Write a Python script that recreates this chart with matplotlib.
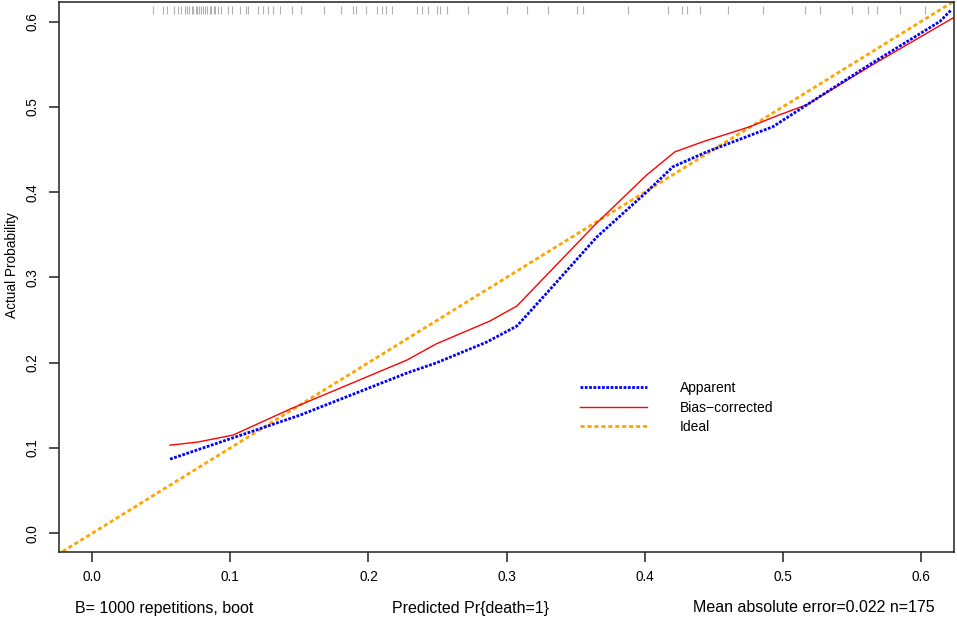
import numpy as np
import matplotlib
matplotlib.use("Agg")
import matplotlib.pyplot as plt
import matplotlib.transforms as mtransforms

plt.rcParams['font.family'] = ['Liberation Sans', 'DejaVu Sans']

# values
apparent_x = [0.0564, 0.1505, 0.2279, 0.2489, 0.2858, 0.3075, 0.3292, 0.3654,
              0.4016, 0.4204, 0.4450, 0.4928, 0.5289, 0.5651, 0.6136, 0.6223]
apparent_y = [0.0869, 0.1385, 0.1879, 0.1996, 0.2243, 0.2430, 0.2818, 0.3475,
              0.4004, 0.4297, 0.4473, 0.4767, 0.5143, 0.5518, 0.6000, 0.6141]

bias_x = [0.0564, 0.0760, 0.1020, 0.1433, 0.2279, 0.2489, 0.2880, 0.3075, 0.3654,
          0.4016, 0.4219, 0.4421, 0.4761, 0.4978, 0.5174, 0.5412, 0.5651, 0.6237]
bias_y = [0.1033, 0.1068, 0.1151, 0.1456, 0.2031, 0.2219, 0.2489, 0.2665, 0.3640,
          0.4203, 0.4473, 0.4591, 0.4767, 0.4908, 0.5025, 0.5260, 0.5495, 0.6047]

ideal = [-0.03, 0.63]

rug_x = [0.044, 0.051, 0.054, 0.059, 0.062, 0.064, 0.067, 0.069, 0.070, 0.072,
         0.073, 0.075, 0.076, 0.077, 0.079, 0.080, 0.082, 0.083, 0.085, 0.086,
         0.088, 0.089, 0.091, 0.093, 0.098, 0.101, 0.107, 0.111, 0.113, 0.120,
         0.124, 0.127, 0.131, 0.136, 0.145, 0.151, 0.168, 0.180, 0.189, 0.191,
         0.198, 0.206, 0.210, 0.213, 0.217, 0.235, 0.239, 0.243, 0.250, 0.252,
         0.257, 0.272, 0.300, 0.315, 0.330, 0.351, 0.355, 0.388, 0.417, 0.427,
         0.431, 0.440, 0.460, 0.486, 0.516, 0.527, 0.550, 0.562, 0.568, 0.585,
         0.603]

ticks = [0.0, 0.1, 0.2, 0.3, 0.4, 0.5, 0.6]
tick_labels = ["0.0", "0.1", "0.2", "0.3", "0.4", "0.5", "0.6"]

fig = plt.figure(figsize=(9.57, 6.24), dpi=100)
ax = fig.add_axes([0.0617, 0.1154, 0.9352, 0.8814])

ax.set_xlim(-0.024, 0.624)
ax.set_ylim(-0.022, 0.623)

# rug of predicted values along the top
trans = mtransforms.blended_transform_factory(ax.transData, ax.transAxes)
ax.vlines(rug_x, 0.978, 0.993, transform=trans, color="#b0b0b0", lw=0.8)

ax.plot(ideal, ideal, color="#FFA500", lw=2.0, linestyle=(0, (1.5, 1.0)),
        dash_capstyle="butt", label="Ideal", zorder=2)
ax.plot(bias_x, bias_y, color="#FF0000", lw=1.0, label="Bias\u2212corrected", zorder=3)
ax.plot(apparent_x, apparent_y, color="#0000FF", lw=2.0, linestyle=(0, (1, 0.55)),
        dash_capstyle="butt", label="Apparent", zorder=4)

handles, labels = ax.get_legend_handles_labels()
order = [2, 1, 0]
ax.legend([handles[i] for i in order], [labels[i] for i in order],
          loc="upper left", bbox_to_anchor=(580 / 957, 1 - 381 / 624),
          bbox_transform=fig.transFigure, frameon=False, fontsize=10,
          handlelength=4.8, handletextpad=2.4, labelspacing=0.4,
          borderpad=0, borderaxespad=0)

ax.set_xticks(ticks)
ax.set_xticklabels(tick_labels)
ax.set_yticks(ticks)
ax.set_yticklabels(tick_labels, rotation=90, va="center")
ax.tick_params(axis="both", direction="out", length=7, width=1.1,
               color="#222222", labelsize=9.8)
ax.tick_params(axis="x", pad=6)
ax.tick_params(axis="y", pad=7)

for side in ["top", "right", "bottom", "left"]:
    ax.spines[side].set_color("#222222")
    ax.spines[side].set_linewidth(1.1)

fig.text(12 / 957, 1 - 265 / 624, "Actual Probability", rotation=90,
         ha="center", va="center", fontsize=9.8)

fig.text(75 / 957, 1 - 608 / 624, "B= 1000 repetitions, boot",
         ha="left", va="center", fontsize=11.5)
fig.text(471 / 957, 1 - 608 / 624, "Predicted Pr{death=1}",
         ha="center", va="center", fontsize=11.5)
fig.text(935 / 957, 1 - 608 / 624, "Mean absolute error=0.022 n=175",
         ha="right", va="center", fontsize=11.5)

fig.savefig("out.png", dpi=100)
